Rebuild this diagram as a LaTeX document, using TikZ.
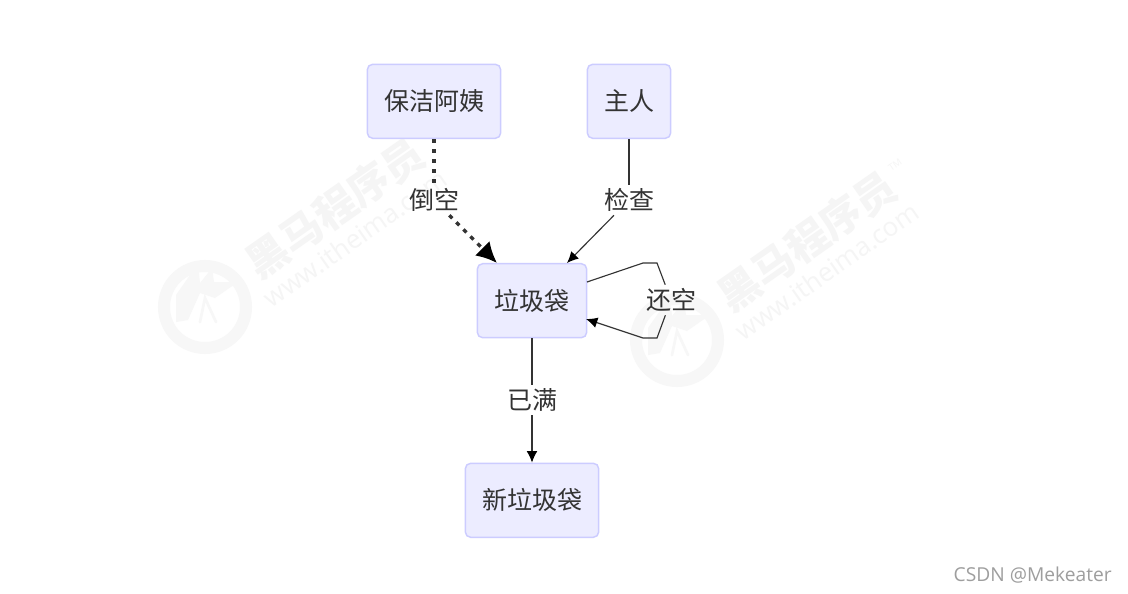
\documentclass[tikz,border=0pt]{standalone}
\usepackage{fontspec}
\usetikzlibrary{arrows.meta}
\setmainfont{Noto Sans CJK SC}
\newfontfamily\latinwm{Open Sans}
\definecolor{boxfill}{HTML}{ECECFF}
\definecolor{boxline}{HTML}{CCCCFF}
\definecolor{ink}{HTML}{333333}
\definecolor{wmark}{HTML}{F5F5F5}
\definecolor{wmarkb}{HTML}{F7F7F7}
\tikzset{
  flowbox/.style={draw=boxline,fill=boxfill,line width=1.1pt,rounded corners=4pt,inner sep=0pt,
    minimum height=55.5pt,text=ink,font=\fontsize{18.75pt}{22pt}\selectfont},
  edgelabel/.style={inner sep=0pt,minimum width=37.5pt,minimum height=22.5pt,text=ink,
    font=\fontsize{18.75pt}{22pt}\selectfont},
  thinline/.style={draw=ink,line width=.85pt},
  thintip/.style={thinline,-{Latex[length=8.5pt,width=8pt,color=black]}},
  dashline/.style={draw=ink,line width=2.5pt,dash pattern=on 3.2pt off 4.3pt},
  thicktip/.style={dashline,-{Latex[length=15.5pt,width=15.5pt,color=black]}},
  wmtitle/.style={text=wmark,rotate=35,inner sep=0pt,font=\fontsize{31pt}{33pt}\selectfont\bfseries},
  wmurl/.style={text=wmark,rotate=35,inner sep=0pt,font=\latinwm\fontsize{19.5pt}{21pt}\selectfont},
  wmtm/.style={text=wmark,rotate=35,inner sep=0pt,font=\latinwm\fontsize{7pt}{8pt}\selectfont},
  wmring/.style={draw=wmarkb,line width=9pt},
  wmglyph/.style={draw=wmarkb,line width=2pt,line cap=round},
  creditmark/.style={text=black!38,inner sep=0pt,font=\latinwm\fontsize{14.4pt}{16pt}\selectfont}
}
\newcommand{\wmgroup}[2]{%
  \begin{scope}[shift={(#1,#2)}]
    \node[wmtitle] (wt#1) at (335,208) {黑马程序员};
    \node[wmurl] (wu#1) at (355,238) {www.itheima.com};
    \node[wmtm] (wm#1) at (423,132) {TM};
    \draw[wmring] (205,307) circle (41);
    \fill[wmarkb] (176,295) -- (190,275) -- (198,265) -- (200,283) -- (212,268) -- (214,282) -- (238,282) -- (215,298) -- (200,293) -- (188,320) -- (176,322) -- cycle;
    \draw[wmglyph] (200,322) -- (205,298) -- (216,322);
  \end{scope}}
\begin{document}
\begin{tikzpicture}[x=.75pt,y=-.75pt]
\useasboundingbox (0,0) rectangle (1128,593);
\fill[white] (0,0) rectangle (1128,593);
\wmgroup{0}{0}
\wmgroup{472}{33}

\node[flowbox,minimum width=100pt] (cleaner) at (434,101.3) {保洁阿姨};
\node[flowbox,minimum width=62.5pt] (owner) at (629,101.3) {主人};
\node[flowbox,minimum width=82pt] (bag) at (532,300.7) {垃圾袋};
\node[flowbox,minimum width=100pt] (newbag) at (532,500.3) {新垃圾袋};

\node[edgelabel] (dump) at (434,200) {倒空};
\node[edgelabel] (check) at (629,200) {检查};
\node[edgelabel] (back) at (671,300) {还空};
\node[edgelabel] (full) at (532,400) {已满};

\coordinate (dumpin) at (497,263);
\coordinate (checkin) at (567,263);
\coordinate (loopout) at (587,282);
\coordinate (loopa) at (643,263);
\coordinate (loopb) at (657,263);
\coordinate (loopc) at (657,338);
\coordinate (loopd) at (643,338);
\coordinate (loopin) at (586,319);

\draw[dashline] (cleaner.south) -- (dump);
\draw[thicktip] (dump) -- (dumpin);
\draw[thinline] (owner.south) -- (check);
\draw[thintip] (check) -- (checkin);
\draw[thinline] (loopout) -- (loopa) -- (loopb) -- (back);
\draw[thintip] (back) -- (loopc) -- (loopd) -- (loopin);
\draw[thinline] (bag.south) -- (full);
\draw[thintip] (full) -- (newbag.north);

\node[creditmark,anchor=east] (credit) at (1112,575) {CSDN @Mekeater};
\end{tikzpicture}
\end{document}
